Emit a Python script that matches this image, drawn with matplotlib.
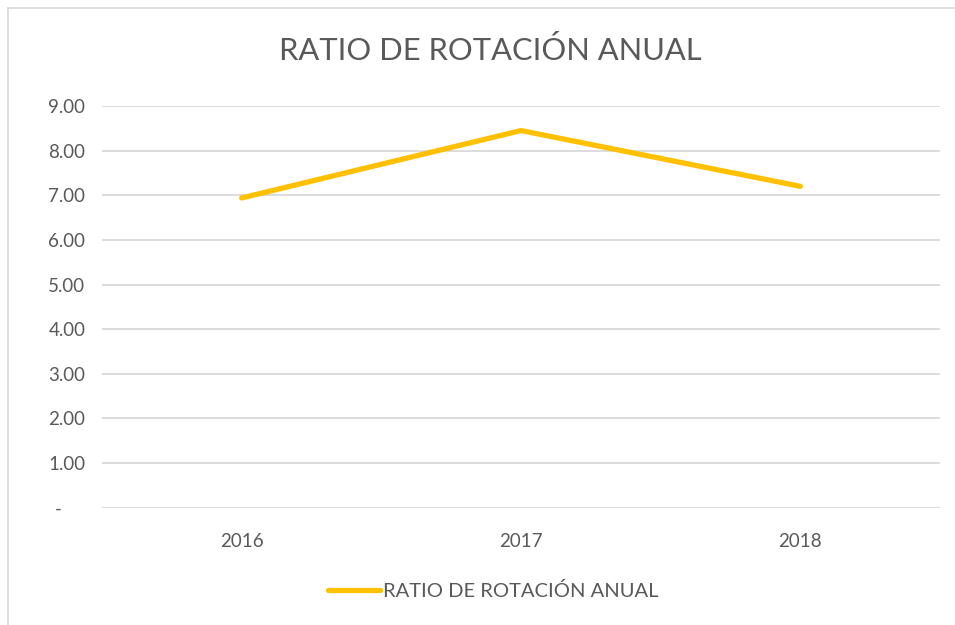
#!/usr/bin/env python3
import matplotlib
matplotlib.use("Agg")
import matplotlib.pyplot as plt
from matplotlib.lines import Line2D
from matplotlib.ticker import FuncFormatter

years = ["2016", "2017", "2018"]
ratio = [6.94, 8.45, 7.20]
series_name = "RATIO DE ROTACIÓN ANUAL"
title = "RATIO DE ROTACIÓN ANUAL"

text_color = "#595959"
grid_color = "#D9D9D9"
line_color = "#FFC000"

plt.rcParams["font.family"] = ["Lato", "DejaVu Sans"]

fig = plt.figure(figsize=(9.55, 6.25), dpi=100)
W, H = 955, 625

# chart area border (cropped screenshot: only top and left visible)
fig.add_artist(Line2D([8 / W, 8 / W], [0, 1 - 8 / H], transform=fig.transFigure,
                      color=grid_color, lw=1.2))
fig.add_artist(Line2D([8 / W, 1], [1 - 8 / H, 1 - 8 / H], transform=fig.transFigure,
                      color=grid_color, lw=1.2))

ax = fig.add_axes([102 / W, 1 - 507.7 / H, (940 - 102) / W, (507.7 - 106) / H])
x = range(len(years))
ax.plot(x, ratio, color=line_color, lw=3.8, solid_capstyle="round",
        solid_joinstyle="round", label=series_name, zorder=3)

ax.set_xlim(-0.5, len(years) - 0.5)
ax.set_ylim(0, 9)
ax.set_yticks(range(0, 10))
ax.yaxis.set_major_formatter(FuncFormatter(lambda v, p: "-     " if v == 0 else f"{v:.2f}"))
ax.set_xticks(list(x))
ax.set_xticklabels(years)
ax.grid(axis="y", color=grid_color, lw=1.3)
ax.set_axisbelow(True)
for s in ax.spines.values():
    s.set_visible(False)
ax.tick_params(length=0, colors=text_color, labelsize=13.5)
ax.tick_params(axis="y", pad=12)
ax.tick_params(axis="x", pad=18)

fig.text(490 / W, 1 - 51 / H, title, ha="center", va="center",
         fontsize=22.2, color=text_color)

leg = fig.legend(handles=[Line2D([0], [0], color=line_color, lw=3.8, solid_capstyle="round")],
                 labels=[series_name], loc="center", bbox_to_anchor=(493 / W, 1 - 591 / H),
                 frameon=False, fontsize=14.5, handlelength=2.6, handletextpad=0.15)
for t in leg.get_texts():
    t.set_color(text_color)

fig.savefig("out.png", dpi=100)
